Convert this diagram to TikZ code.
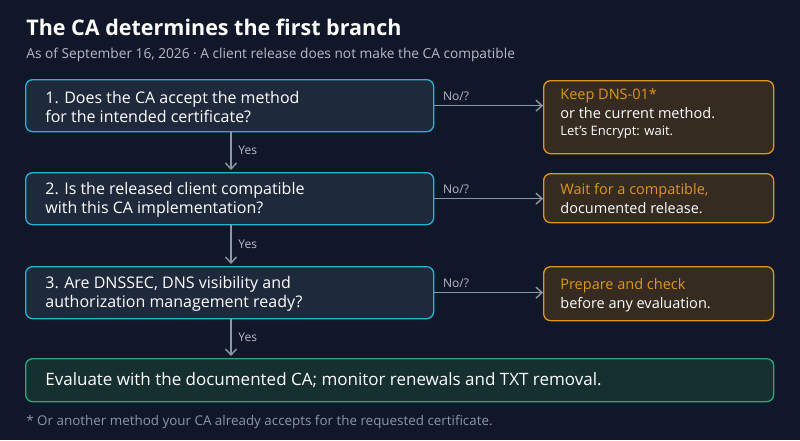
\documentclass[tikz,border=0pt]{standalone}
\usepackage{fontspec}
\setmainfont{Open Sans}
\usetikzlibrary{arrows.meta}
\definecolor{bgcol}{HTML}{0F1729}
\definecolor{qfill}{HTML}{1E293B}
\definecolor{qline}{HTML}{22B5D3}
\definecolor{ofill}{HTML}{352B21}
\definecolor{oline}{HTML}{E0961A}
\definecolor{gfill}{HTML}{15302F}
\definecolor{gline}{HTML}{2FA37A}
\definecolor{subcol}{HTML}{B4BCC8}
\definecolor{arrcol}{HTML}{8C97A6}
\tikzset{every picture/.style={line width=0.75pt}}
\tikzset{
  qbox/.style={draw=qline,fill=qfill,rounded corners=7pt,line width=1.3pt,minimum width=408pt,minimum height=52pt,anchor=north west},
  obox/.style={draw=oline,fill=ofill,rounded corners=7pt,line width=1.3pt,minimum width=230pt,anchor=north west},
  gbox/.style={draw=gline,fill=gfill,rounded corners=7pt,line width=1.3pt,minimum width=748pt,minimum height=43pt,anchor=north west},
  flow/.style={draw=arrcol,line width=1.4pt,-{Straight Barb[length=6pt,width=11pt]}},
  lbl/.style={text=subcol,font=\fontsize{12}{14}\selectfont,inner sep=0.75pt},
  qtxt/.style={text=white,font=\fontsize{16}{19.5}\selectfont,anchor=west,inner sep=0pt,align=left},
}
\begin{document}
\begin{tikzpicture}[x=1pt,y=1pt,yscale=-1]
\fill[bgcol] (0,0) rectangle (800,440);

% Title
\node (title) [anchor=west,text=white,inner sep=0pt,font=\fontsize{21.5}{26}\selectfont\bfseries] at (26,27) {The CA determines the first branch};
\node (sub) [anchor=west,text=subcol,inner sep=0pt,font=\fontsize{13.7}{16}\selectfont] at (26,55) {As of September 16, 2026 · A client release does not make the CA compatible};

% Questions
\node (q1) [qbox] at (25,79) {};
\node [qtxt] at (45,107) {1. Does the CA accept the method\\for the intended certificate?};
\node (q2) [qbox] at (25,172) {};
\node [qtxt] at (45,200) {2. Is the released client compatible\\with this CA implementation?};
\node (q3) [qbox] at (25,266) {};
\node [qtxt] at (45,294) {3. Are DNSSEC, DNS visibility and\\authorization management ready?};

% Outcomes
\node (o1) [obox,minimum height=73pt] at (543,80) {};
\node [anchor=north west,inner sep=0pt,align=left,text=white,font=\fontsize{14.5}{19}\selectfont] at (560,88)
  {\textcolor{oline}{Keep DNS-01*}\\or the current method.\\[-2pt]{\fontsize{13}{15}\selectfont Let's Encrypt: wait.}};
\node (o2) [obox,minimum height=49pt] at (543,173) {};
\node [anchor=west,inner sep=0pt,align=left,text=white,font=\fontsize{14.5}{19}\selectfont] at (560,199)
  {\textcolor{oline}{Wait for a compatible,}\\documented release.};
\node (o3) [obox,minimum height=54pt] at (543,266) {};
\node [anchor=west,inner sep=0pt,align=left,text=white,font=\fontsize{14.5}{19}\selectfont] at (560,295)
  {\textcolor{oline}{Prepare and check}\\before any evaluation.};

% Final
\node (fin) [gbox] at (25,358) {};
\node [anchor=west,inner sep=0pt,text=white,font=\fontsize{17}{20}\selectfont] at (45,380)
  {Evaluate with the documented CA; monitor renewals and TXT removal.};

% Connectors
\draw[flow] (q1.east) -- (o1.west |- q1.east) node[lbl,pos=0.2,above=4pt] {No/?};
\draw[flow] (q2.east) -- (o2.west |- q2.east) node[lbl,pos=0.2,above=4pt] {No/?};
\draw[flow] (q3.east) -- (o3.west |- q3.east) node[lbl,pos=0.2,above=4pt] {No/?};
\draw[flow] (231,131) -- (231,170) node[lbl,midway,right=6pt] {Yes};
\draw[flow] (231,224) -- (231,264) node[lbl,midway,right=6pt] {Yes};
\draw[flow] (231,318) -- (231,356) node[lbl,midway,right=6pt] {Yes};

% Footnote
\node (note) [anchor=west,text=arrcol,inner sep=0pt,font=\fontsize{13.4}{15}\selectfont] at (26,422) {* Or another method your CA already accepts for the requested certificate.};
\end{tikzpicture}
\end{document}
